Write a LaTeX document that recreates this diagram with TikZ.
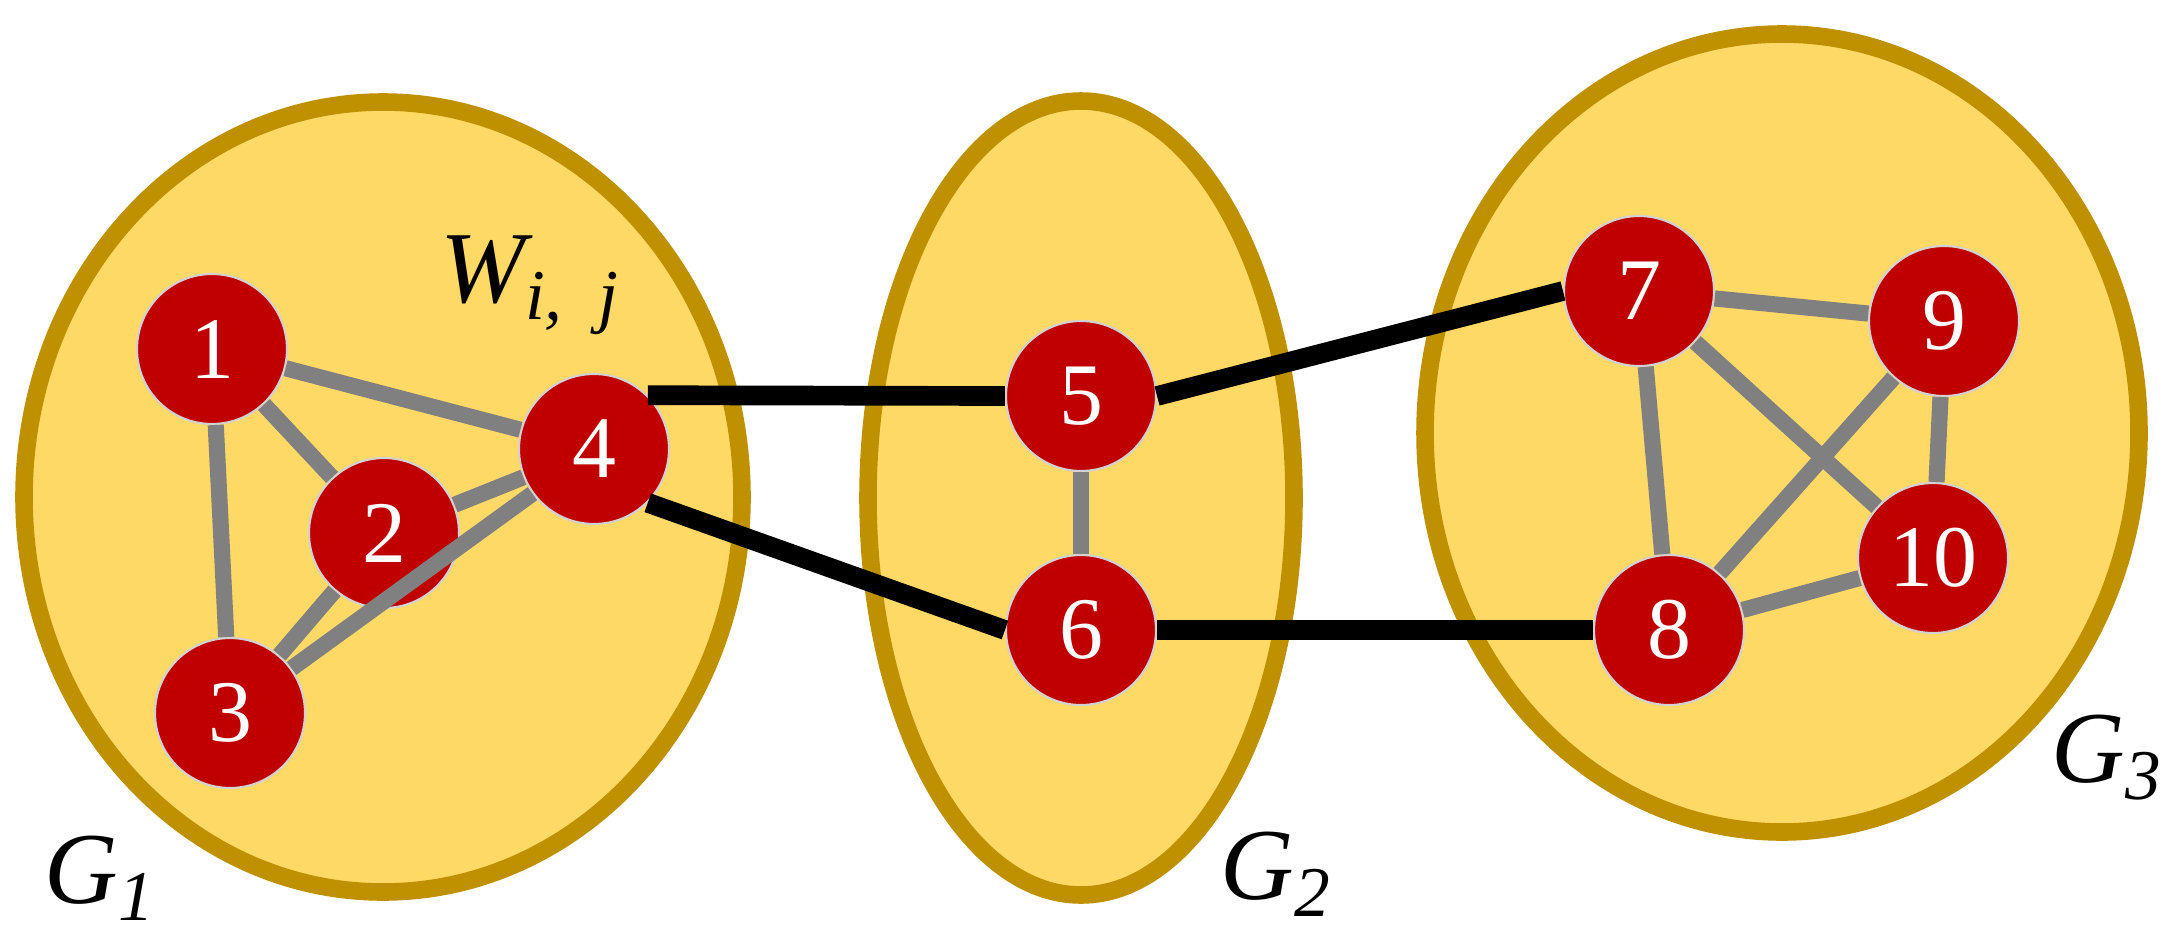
\documentclass[tikz,border=0pt]{standalone}
\usepackage{fontspec}
\setmainfont{Liberation Serif}
\usetikzlibrary{shapes.geometric}
\definecolor{goldline}{RGB}{191,144,0}
\definecolor{goldfill}{RGB}{255,217,102}
\definecolor{nodered}{RGB}{192,0,0}
\definecolor{edgegray}{RGB}{128,128,128}

\begin{document}
\begin{tikzpicture}[
    grp/.style={ellipse, draw=goldline, fill=goldfill, line width=5pt, inner sep=0pt},
    vtx/.style={circle, draw=gray!35, fill=nodered, text=white, minimum size=1.50cm,
                inner sep=0pt, line width=0.6pt, font=\fontsize{25}{25}\selectfont},
    gedge/.style={draw=edgegray, line width=4.6pt},
    bedge/.style={draw=black, line width=5.6pt},
    glabel/.style={font=\fontsize{29}{29}\selectfont\itshape}
]
\useasboundingbox (0,0) rectangle (21.77,9.34);
% groups
\node[grp, minimum width=7.18cm, minimum height=7.90cm] (g1) at (3.83,4.37) {};
\node[grp, minimum width=4.26cm, minimum height=7.94cm] (g2) at (10.81,4.36) {};
\node[grp, minimum width=7.14cm, minimum height=7.98cm] (g3) at (17.82,5.01) {};
% vertices
\node[vtx] (n1)  at (2.12,5.85)  {1};
\node[vtx] (n2)  at (3.84,4.01)  {2};
\node[vtx] (n3)  at (2.30,2.21)  {3};
\node[vtx] (n4)  at (5.94,4.85)  {4};
\node[vtx] (n5)  at (10.81,5.38) {5};
\node[vtx] (n6)  at (10.81,3.04) {6};
\node[vtx] (n7)  at (16.39,6.43) {7};
\node[vtx] (n8)  at (16.69,3.04) {8};
\node[vtx] (n9)  at (19.44,6.13) {9};
\node[vtx] (n10) at (19.33,3.76) {10};
% labels
\node[glabel] (w)  at (5.30,6.49)  {W\textsubscript{\itshape i,\ \ j}};
\node[glabel] (l1) at (1.00,0.56)  {G\textsubscript{\itshape 1}};
\node[glabel] (l2) at (12.76,0.60) {G\textsubscript{\itshape 2}};
\node[glabel] (l3) at (21.07,1.76) {G\textsubscript{\itshape 3}};
% edges inside groups
\draw[gedge] (n1) -- (n4); \draw[gedge] (n1) -- (n2); \draw[gedge] (n1) -- (n3);
\draw[gedge] (n2) -- (n4); \draw[gedge] (n2) -- (n3); \draw[gedge] (n3) -- (n4);
\draw[gedge] (n5) -- (n6);
\draw[gedge] (n7) -- (n9); \draw[gedge] (n7) -- (n8); \draw[gedge] (n7) -- (n10);
\draw[gedge] (n9) -- (n8); \draw[gedge] (n9) -- (n10); \draw[gedge] (n8) -- (n10);
% edges between groups
\draw[bedge] (n4.45) -- (n5.west);
\draw[bedge] (n4.-45) -- (n6.west);
\draw[bedge] (n5.east) -- (n7.west);
\draw[bedge] (n6.east) -- (n8.west);
\end{tikzpicture}
\end{document}
